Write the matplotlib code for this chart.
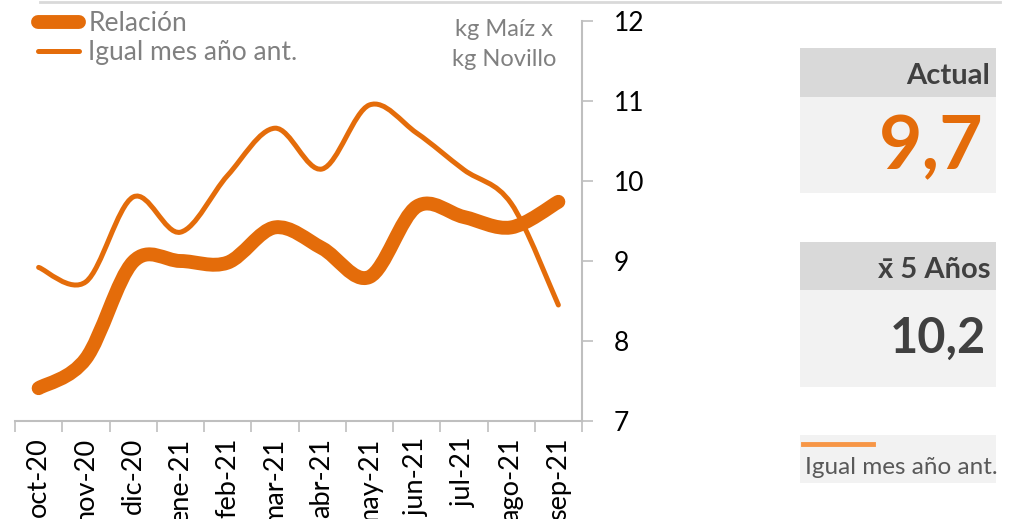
import numpy as np
import matplotlib
matplotlib.use("Agg")
from matplotlib import pyplot as plt
from matplotlib.path import Path
from matplotlib.patches import PathPatch, Rectangle
from matplotlib.lines import Line2D

plt.rcParams['font.family'] = ['Lato', 'DejaVu Sans']

meses = ["oct-20", "nov-20", "dic-20", "ene-21", "feb-21", "mar-21",
         "abr-21", "may-21", "jun-21", "jul-21", "ago-21", "sep-21"]
relacion = [7.41, 7.78, 8.99, 9.0, 8.98, 9.42, 9.16, 8.80, 9.68, 9.55, 9.42, 9.74]
igual_mes = [8.92, 8.74, 9.80, 9.36, 10.07, 10.66, 10.15, 10.95, 10.60, 10.14, 9.72, 8.45]
actual_txt = "9,7"
prom5_txt = "10,2"

naranja = "#e46c0a"
gris_txt = "#808080"
gris_osc = "#404040"


def suavizado(x, y):
    # curva tipo Excel: bezier cubica entre puntos consecutivos
    pts = np.column_stack([x, y]).astype(float)
    n = len(pts)
    verts = [pts[0]]
    codes = [Path.MOVETO]
    for i in range(n - 1):
        p0 = pts[i - 1] if i > 0 else pts[i]
        p1 = pts[i]
        p2 = pts[i + 1]
        p3 = pts[i + 2] if i + 2 < n else pts[i + 1]
        c1 = p1 + (p2 - p0) / 6.0
        c2 = p2 - (p3 - p1) / 6.0
        verts += [c1, c2, p2]
        codes += [Path.CURVE4] * 3
    return Path(verts, codes)


fig = plt.figure(figsize=(10.16, 5.19), dpi=100)
ax = fig.add_axes([15 / 1016, 98 / 519, 567 / 1016, 400 / 519])

x = np.arange(len(meses))
for serie, lw in [(igual_mes, 3.6), (relacion, 10)]:
    p = PathPatch(suavizado(x, serie), fill=False, edgecolor=naranja, lw=lw,
                  capstyle='round', joinstyle='round')
    ax.add_patch(p)

ax.set_xlim(-0.5, len(meses) - 0.5)
ax.set_ylim(7, 12)
ax.yaxis.tick_right()
ax.set_yticks(range(7, 13))
ax.tick_params(axis='y', direction='out', length=8, width=1.2, color='#bfbfbf',
               labelsize=19, pad=15, labelcolor='black')
ax.set_xticks(x)
ax.set_xticklabels(meses, rotation=90, fontsize=19.5)
ax.set_xticks(np.arange(-0.5, len(meses)), minor=True)
ax.tick_params(axis='x', which='major', length=0, pad=12)
ax.tick_params(axis='x', which='minor', direction='out', length=8, width=1.2, color='#bfbfbf')
for s in ['top', 'left']:
    ax.spines[s].set_visible(False)
for s in ['bottom', 'right']:
    ax.spines[s].set_color('#bfbfbf')
    ax.spines[s].set_linewidth(1.5)

# leyenda
h1 = Line2D([], [], color=naranja, lw=10, solid_capstyle='round')
h2 = Line2D([], [], color=naranja, lw=3.6, solid_capstyle='round')
leg = ax.legend([h1, h2], ["Relación", "Igual mes año ant."], loc='upper left',
                bbox_to_anchor=(38 / 1016, 1 - 11 / 519), bbox_transform=fig.transFigure,
                frameon=False, fontsize=19, handlelength=1.55, handletextpad=0.35,
                labelspacing=0.15, labelcolor=gris_txt, borderaxespad=0, borderpad=0)

fig.text(504 / 1016, 1 - 30 / 519, "kg Maíz x", ha='center', va='center', fontsize=17, color=gris_txt)
fig.text(504 / 1016, 1 - 60 / 519, "kg Novillo", ha='center', va='center', fontsize=17, color=gris_txt)

# linea superior
fig.add_artist(Line2D([40 / 1016, 1000 / 1016], [1 - 1.5 / 519] * 2, color='#d9d9d9', lw=2))


def caja(x0, y0, x1, y1, color):
    fig.add_artist(Rectangle((x0 / 1016, 1 - y1 / 519), (x1 - x0) / 1016, (y1 - y0) / 519,
                             transform=fig.transFigure, facecolor=color, edgecolor='none'))


caja(800, 48, 996, 97, '#d9d9d9')
caja(800, 97, 996, 193, '#f2f2f2')
caja(800, 242, 996, 290, '#d9d9d9')
caja(800, 290, 996, 387, '#f2f2f2')
caja(800, 435, 996, 483, '#f2f2f2')

fig.text(990 / 1016, 1 - 76 / 519, "Actual", ha='right', va='center', fontsize=21,
         fontweight='bold', color=gris_osc)
fig.text(984 / 1016, 1 - 148 / 519, actual_txt, ha='right', va='center', fontsize=54,
         fontweight='bold', color=naranja)
fig.text(990 / 1016, 1 - 270 / 519, "x\u0304 5 Años", ha='right', va='center', fontsize=21,
         fontweight='bold', color=gris_osc)
fig.text(986 / 1016, 1 - 338 / 519, prom5_txt, ha='right', va='center', fontsize=35,
         fontweight='bold', color=gris_osc)
fig.add_artist(Line2D([803 / 1016, 873 / 1016], [1 - 444 / 519] * 2, color='#f79646', lw=3.5))
fig.text(805 / 1016, 1 - 467 / 519, "Igual mes año ant.", ha='left', va='center', fontsize=17.5,
         color='#595959')

fig.savefig("out.png", dpi=100)
